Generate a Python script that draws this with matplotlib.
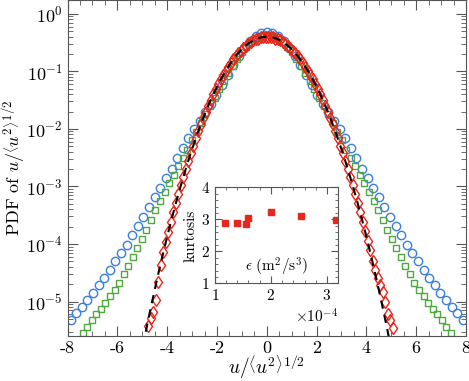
import numpy as np
import matplotlib
matplotlib.use("Agg")
import matplotlib.pyplot as plt
from matplotlib.ticker import MultipleLocator, LogLocator, NullFormatter, ScalarFormatter, FuncFormatter

plt.rcParams['font.family'] = 'cmr10'
plt.rcParams['mathtext.fontset'] = 'cm'
plt.rcParams['axes.unicode_minus'] = False
plt.rcParams['axes.formatter.use_mathtext'] = True

# blue circles: bin centres every 0.225, log10 of PDF (|x| = 0 .. 7.875)
blue_half = [-0.32, -0.33, -0.38, -0.47, -0.59, -0.74, -0.89, -1.06, -1.24, -1.42,
             -1.57, -1.71, -1.86, -2.00, -2.16, -2.33, -2.50, -2.69, -2.85, -3.02,
             -3.18, -3.35, -3.53, -3.69, -3.85, -4.01, -4.15, -4.29, -4.46, -4.59,
             -4.72, -4.86, -4.98, -5.09, -5.20, -5.33]
blue_x = np.arange(-35, 36) * 0.225
blue_log = blue_half[:0:-1] + blue_half

# green squares: bin centres every 0.1825 offset by half a bin (|x| = 0.091 .. 7.391)
green_half = [-0.37, -0.39, -0.43, -0.49, -0.57, -0.67, -0.78, -0.90, -1.03, -1.17,
              -1.31, -1.46, -1.60, -1.75, -1.90, -2.05, -2.20, -2.36, -2.51, -2.65,
              -2.80, -2.94, -3.10, -3.25, -3.41, -3.58, -3.75, -3.91, -4.07, -4.22,
              -4.38, -4.53, -4.67, -4.80, -4.91, -5.03, -5.13, -5.22, -5.33, -5.45,
              -5.55]
green_x = np.concatenate([-(0.09125 + np.arange(40, -1, -1) * 0.1825),
                          0.09125 + np.arange(0, 41) * 0.1825])
green_log = green_half[::-1] + green_half

# red diamonds: bin centres every 0.1 from -4.75 to 5.05
red_x = np.round(np.arange(-4.75, 5.06, 0.1), 2)
red_log = [-5.43, -5.29, -5.19, -4.97, -4.66, -4.37, -4.14, -3.96, -3.79, -3.62,
           -3.45, -3.29, -3.14, -2.98, -2.84, -2.69, -2.55, -2.42, -2.29, -2.16,
           -2.04, -1.92, -1.81, -1.70, -1.60, -1.50, -1.40, -1.31, -1.22, -1.14,
           -1.06, -0.99, -0.92, -0.86, -0.79, -0.74, -0.69, -0.64, -0.60, -0.56,
           -0.52, -0.49, -0.46, -0.44, -0.43, -0.41, -0.40, -0.40,
           -0.40, -0.40, -0.41, -0.43, -0.44, -0.46, -0.49, -0.52, -0.56, -0.60,
           -0.64, -0.69, -0.74, -0.79, -0.86, -0.92, -0.99, -1.06, -1.14, -1.22,
           -1.31, -1.40, -1.50, -1.60, -1.70, -1.81, -1.92, -2.04, -2.16, -2.29,
           -2.42, -2.55, -2.69, -2.83, -2.98, -3.13, -3.29, -3.45, -3.61, -3.78,
           -3.95, -4.11, -4.29, -4.45, -4.60, -4.72, -4.84, -5.00, -5.21, -5.33,
           -5.46]

# inset: kurtosis vs dissipation rate
eps = [1.18e-4, 1.40e-4, 1.55e-4, 1.60e-4, 2.01e-4, 2.54e-4, 3.16e-4]
kurt = [2.88, 2.89, 2.86, 3.06, 3.23, 3.11, 2.97]

c_blue = '#3a7fe0'
c_green = '#4fa83d'
c_red = '#e8261b'

fig = plt.figure(figsize=(4.69, 3.81), dpi=100)
ax = fig.add_axes([0.144, 0.119, 0.8496, 0.8797])

ax.plot(blue_x, 10 ** np.array(blue_log), 'o', mfc='none', mec=c_blue, ms=6.0, mew=1.0)
ax.plot(green_x, 10 ** np.array(green_log), 's', mfc='none', mec=c_green, ms=4.6, mew=1.0)
ax.plot(red_x, 10 ** np.array(red_log), 'd', mfc='none', mec=c_red, ms=6.5, mew=1.0)

# gaussian reference
xg = np.linspace(-5.2, 5.2, 400)
ax.plot(xg, np.exp(-xg ** 2 / 2) / np.sqrt(2 * np.pi), '--', color='k', lw=1.5, dashes=(4, 3))

ax.set_yscale('log')
ax.set_xlim(-8, 8)
ax.set_ylim(2.55e-6, 1.7)
ax.xaxis.set_major_locator(MultipleLocator(2))
ax.xaxis.set_minor_locator(MultipleLocator(0.5))
ax.xaxis.set_major_formatter(FuncFormatter(lambda v, p: '%d' % round(v)))
ax.yaxis.set_major_locator(LogLocator(base=10, numticks=15))
ax.yaxis.set_minor_locator(LogLocator(base=10, subs=np.arange(2, 10), numticks=15))
ax.yaxis.set_minor_formatter(NullFormatter())
ax.tick_params(which='both', direction='in', top=True, right=True, labelsize=13, color='#555555')
ax.tick_params(which='major', length=7)
ax.tick_params(which='minor', length=3.5)
for s in ax.spines.values():
    s.set_color('#555555')
ax.set_xlabel(r'$u/\left\langle u^2\right\rangle^{1/2}$', fontsize=14, labelpad=-2)
ax.set_ylabel(r'PDF of $u/\left\langle u^2\right\rangle^{1/2}$', fontsize=13, labelpad=-1)

# inset
ins = fig.add_axes([0.458, 0.256, 0.263, 0.252])
ins.plot(eps, kurt, 's', color=c_red, ms=4.8)
ins.set_xlim(1e-4, 3.2e-4)
ins.set_ylim(1, 4)
ins.xaxis.set_major_locator(MultipleLocator(1e-4))
ins.xaxis.set_minor_locator(MultipleLocator(0.2e-4))
ins.yaxis.set_major_locator(MultipleLocator(1))
ins.yaxis.set_minor_locator(MultipleLocator(0.2))
fmt = ScalarFormatter(useMathText=True)
fmt.set_powerlimits((0, 0))
ins.xaxis.set_major_formatter(fmt)
ins.xaxis.get_offset_text().set_fontsize(11)
ins.tick_params(which='both', direction='in', top=True, right=True, labelsize=11, color='#555555')
ins.tick_params(which='major', length=5)
ins.tick_params(which='minor', length=2.5)
for s in ins.spines.values():
    s.set_color('#555555')
ins.set_ylabel('kurtosis', fontsize=11, labelpad=2)
ins.text(0.5, 0.06, r'$\epsilon\ (\mathrm{m}^2/\mathrm{s}^3)$', transform=ins.transAxes,
         ha='center', va='bottom', fontsize=11)

fig.savefig('out.png', dpi=100)
